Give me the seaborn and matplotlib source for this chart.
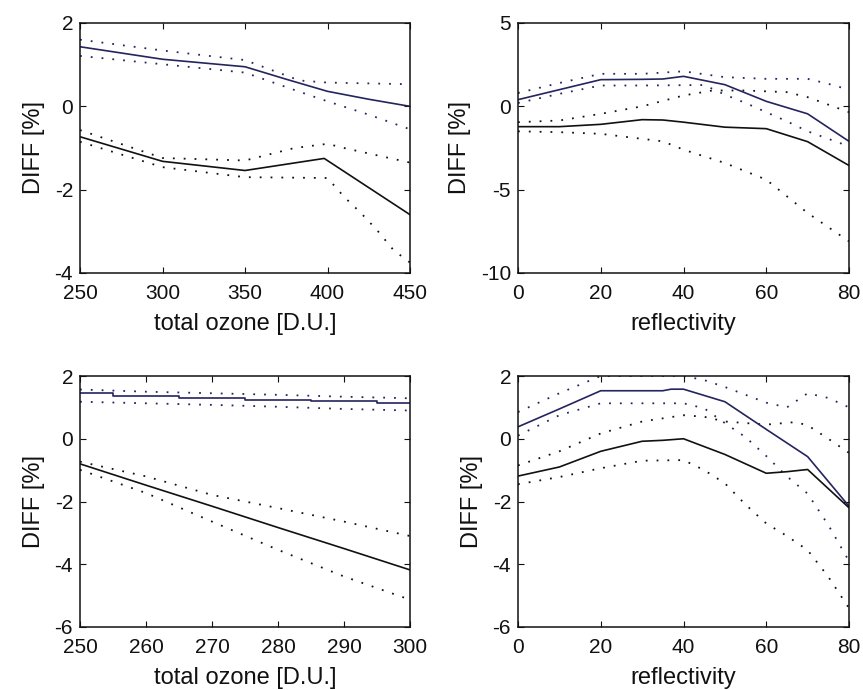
import matplotlib
matplotlib.use('Agg')
import matplotlib.pyplot as plt
import seaborn as sns

# ---- data ----
# top left: DIFF vs total ozone (250-450)
p1_blue_x = [250, 300, 350, 375, 400, 425, 450]
p1_blue_y = [1.43, 1.13, 0.95, 0.65, 0.36, 0.17, 0.0]
p1_blue_hi_x = [250, 300, 350, 383, 400, 450]
p1_blue_hi_y = [1.6, 1.34, 1.11, 0.62, 0.57, 0.53]
p1_blue_lo_x = [250, 300, 350, 383, 400, 425, 450]
p1_blue_lo_y = [1.21, 1.01, 0.81, 0.35, 0.12, -0.2, -0.55]
p1_black_x = [250, 300, 350, 398, 450]
p1_black_y = [-0.73, -1.32, -1.54, -1.25, -2.6]
p1_black_hi_x = [250, 300, 350, 380, 400, 410, 450]
p1_black_hi_y = [-0.57, -1.24, -1.30, -1.0, -0.9, -1.0, -1.35]
p1_black_lo_x = [250, 300, 350, 400, 410, 420, 430, 440, 450]
p1_black_lo_y = [-0.85, -1.46, -1.70, -1.72, -2.17, -2.55, -2.97, -3.45, -3.75]

# top right: DIFF vs reflectivity
p2_blue_x = [0, 10, 20, 30, 35, 40, 50, 60, 70, 80]
p2_blue_y = [0.4, 1.0, 1.6, 1.62, 1.64, 1.8, 1.3, 0.3, -0.45, -2.1]
p2_blue_hi_x = [0, 10, 20, 30, 40, 50, 60, 70, 75, 80]
p2_blue_hi_y = [0.8, 1.4, 1.95, 1.95, 2.1, 1.75, 1.65, 1.65, 1.35, 1.0]
p2_blue_lo_x = [0, 10, 20, 30, 45, 50, 55, 60, 65, 70, 80]
p2_blue_lo_y = [0.2, 0.75, 1.25, 1.25, 1.28, 0.7, 0.2, -0.35, -0.9, -1.5, -2.4]
p2_black_x = [0, 10, 20, 30, 35, 40, 50, 60, 70, 80]
p2_black_y = [-1.22, -1.22, -1.08, -0.8, -0.82, -0.95, -1.25, -1.34, -2.12, -3.55]
p2_black_hi_x = [0, 10, 20, 30, 40, 47, 55, 65, 70, 75, 80]
p2_black_hi_y = [-0.95, -0.85, -0.45, 0.0, 0.65, 0.95, 0.95, 0.85, 0.55, 0.1, -0.35]
p2_black_lo_x = [0, 10, 20, 30, 35, 40, 50, 60, 70, 80]
p2_black_lo_y = [-1.5, -1.55, -1.65, -1.95, -2.1, -2.6, -3.4, -4.4, -6.4, -8.1]

# bottom left: DIFF vs total ozone (250-300)
p3_x = [250, 260, 270, 280, 290, 300]
p3_blue_y = [1.45, 1.37, 1.30, 1.24, 1.19, 1.13]
p3_blue_hi_y = [1.57, 1.50, 1.45, 1.40, 1.34, 1.29]
p3_blue_lo_y = [1.18, 1.13, 1.08, 1.02, 0.95, 0.90]
p3_black_y = [-0.8, -1.48, -2.15, -2.83, -3.5, -4.18]
p3_black_hi_y = [-0.73, -1.2, -1.79, -2.21, -2.64, -3.1]
p3_black_lo_y = [-0.99, -1.73, -2.64, -3.54, -4.39, -5.13]

# bottom right: DIFF vs reflectivity
p4_blue_x = [0, 10, 20, 35, 37, 40, 50, 60, 70, 80]
p4_blue_y = [0.38, 0.95, 1.53, 1.53, 1.58, 1.58, 1.18, 0.3, -0.57, -2.15]
p4_blue_hi_x = [0, 10, 20, 30, 40, 45, 50, 55, 60, 65, 70, 75, 80]
p4_blue_hi_y = [0.85, 1.45, 2.0, 2.0, 2.0, 1.87, 1.65, 1.4, 1.15, 1.0, 1.45, 1.3, 1.0]
p4_blue_lo_x = [0, 10, 20, 30, 40, 45, 50, 55, 60, 65, 70, 75, 80]
p4_blue_lo_y = [0.1, 0.75, 1.13, 1.13, 1.13, 0.97, 0.5, 0.05, -0.55, -1.2, -1.75, -2.75, -3.9]
p4_black_x = [0, 10, 20, 30, 35, 40, 50, 60, 65, 70, 80]
p4_black_y = [-1.19, -0.9, -0.4, -0.08, -0.05, 0.0, -0.5, -1.1, -1.05, -0.98, -2.2]
p4_black_hi_x = [0, 10, 20, 30, 40, 45, 50, 55, 60, 67, 70, 75, 80]
p4_black_hi_y = [-0.85, -0.4, 0.17, 0.55, 0.75, 0.7, 0.55, 0.5, 0.45, 0.53, 0.43, 0.0, -0.45]
p4_black_lo_x = [0, 10, 20, 30, 40, 45, 50, 55, 60, 65, 70, 75, 80]
p4_black_lo_y = [-1.45, -1.22, -0.94, -0.7, -0.68, -1.0, -1.42, -2.1, -2.7, -3.1, -3.55, -4.4, -5.4]

OZ1_TICKS = [250, 300, 350, 400, 450]
OZ2_TICKS = [250, 260, 270, 280, 290, 300]
REFL_TICKS = [0, 20, 40, 60, 80]

NAVY = '#24245e'
BLACK = '#111111'
DOTS = (0, (1, 5))

sns.set_style('white')
plt.rcParams['font.family'] = ['Liberation Sans', 'DejaVu Sans']
plt.rcParams['axes.unicode_minus'] = False


def line(ax, x, y, color, dotted=False, steps=False):
    kw = {}
    if dotted:
        kw['linestyle'] = DOTS
        lw = 1.3
    else:
        lw = 1.2
    if steps:
        kw['drawstyle'] = 'steps-mid'
    sns.lineplot(x=x, y=y, ax=ax, color=color, lw=lw, **kw)


def style_axes(ax, xlim, ylim, xticks, yticks, xlabel):
    ax.set_xlim(*xlim)
    ax.set_ylim(*ylim)
    ax.set_xticks(xticks)
    ax.set_yticks(yticks)
    ax.set_xlabel(xlabel, fontsize=17, labelpad=7, color=BLACK)
    ax.set_ylabel('DIFF [%]', fontsize=17, labelpad=7, color=BLACK)
    ax.tick_params(direction='in', top=True, right=True, bottom=True, left=True,
                   length=4, width=0.8, labelsize=15, colors=BLACK)
    ax.tick_params(axis='x', pad=8)
    ax.tick_params(axis='y', pad=5)
    for sp in ax.spines.values():
        sp.set_visible(True)
        sp.set_color(BLACK)
        sp.set_linewidth(1.1)


fig = plt.figure(figsize=(8.63, 6.90), dpi=100)
W, H = 863, 690
def pos(l, t, r, b):
    return [l / W, 1 - b / H, (r - l) / W, (b - t) / H]

ax1 = fig.add_axes(pos(80, 23, 410, 273))
ax2 = fig.add_axes(pos(518, 23, 849, 273))
ax3 = fig.add_axes(pos(80, 376, 410, 627))
ax4 = fig.add_axes(pos(518, 376, 849, 627))

# panel 1
line(ax1, p1_blue_hi_x, p1_blue_hi_y, NAVY, dotted=True)
line(ax1, p1_blue_lo_x, p1_blue_lo_y, NAVY, dotted=True)
line(ax1, p1_black_hi_x, p1_black_hi_y, BLACK, dotted=True)
line(ax1, p1_black_lo_x, p1_black_lo_y, BLACK, dotted=True)
line(ax1, p1_blue_x, p1_blue_y, NAVY)
line(ax1, p1_black_x, p1_black_y, BLACK)
style_axes(ax1, (250, 450), (-4, 2), OZ1_TICKS, [-4, -2, 0, 2], 'total ozone [D.U.]')

# panel 2
line(ax2, p2_blue_hi_x, p2_blue_hi_y, NAVY, dotted=True)
line(ax2, p2_blue_lo_x, p2_blue_lo_y, NAVY, dotted=True)
line(ax2, p2_black_hi_x, p2_black_hi_y, BLACK, dotted=True)
line(ax2, p2_black_lo_x, p2_black_lo_y, BLACK, dotted=True)
line(ax2, p2_blue_x, p2_blue_y, NAVY)
line(ax2, p2_black_x, p2_black_y, BLACK)
style_axes(ax2, (0, 80), (-10, 5), REFL_TICKS, [-10, -5, 0, 5], 'reflectivity')

# panel 3
line(ax3, p3_x, p3_blue_hi_y, NAVY, dotted=True)
line(ax3, p3_x, p3_blue_lo_y, NAVY, dotted=True)
line(ax3, p3_x, p3_black_hi_y, BLACK, dotted=True)
line(ax3, p3_x, p3_black_lo_y, BLACK, dotted=True)
line(ax3, p3_x, p3_blue_y, NAVY, steps=True)
line(ax3, p3_x, p3_black_y, BLACK)
style_axes(ax3, (250, 300), (-6, 2), OZ2_TICKS, [-6, -4, -2, 0, 2], 'total ozone [D.U.]')

# panel 4
line(ax4, p4_blue_hi_x, p4_blue_hi_y, NAVY, dotted=True)
line(ax4, p4_blue_lo_x, p4_blue_lo_y, NAVY, dotted=True)
line(ax4, p4_black_hi_x, p4_black_hi_y, BLACK, dotted=True)
line(ax4, p4_black_lo_x, p4_black_lo_y, BLACK, dotted=True)
line(ax4, p4_blue_x, p4_blue_y, NAVY)
line(ax4, p4_black_x, p4_black_y, BLACK)
style_axes(ax4, (0, 80), (-6, 2), REFL_TICKS, [-6, -4, -2, 0, 2], 'reflectivity')

fig.savefig('out.png', dpi=100)
